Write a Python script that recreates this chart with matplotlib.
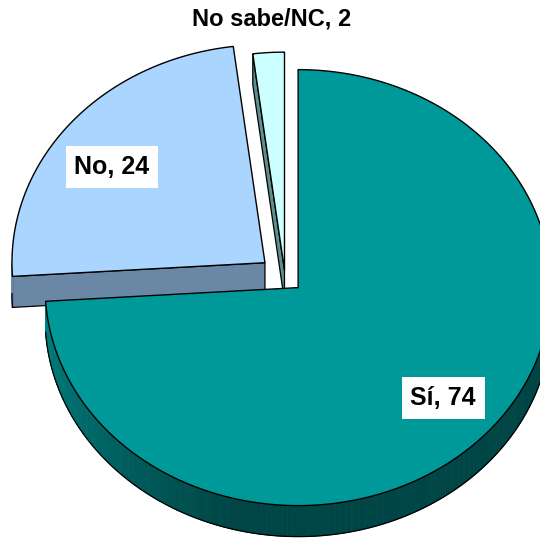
import numpy as np
import matplotlib
matplotlib.use("Agg")
import matplotlib.pyplot as plt
from matplotlib.patches import Polygon
from matplotlib.colors import to_rgb

# Survey answers
categories = ["Sí", "No", "No sabe/NC"]
values = [74, 24, 2]
top_colors = ["#009999", "#A9D5FE", "#CCFFFF"]
side_colors = ["#004545", "#6A88A6", "#5E8E8E"]
side_light = ["#008080", "#6A88A6", "#5E8E8E"]

# Projected pie geometry (in pixel-like data units)
CX, CY = 285.0, 277.0      # pie centre
RX, RY = 253.0, 218.0      # ellipse radii of the top face
DEPTH = 31.0               # thickness of the disc
EXPLODE = [18.0, 26.0, 8.0]
START = 90.0

fig = plt.figure(figsize=(5.40, 5.39), dpi=100)
ax = fig.add_axes([0, 0, 1, 1])
ax.set_xlim(0, 540)
ax.set_ylim(539, 0)
ax.axis("off")


def rim(cx, cy, deg):
    t = np.radians(deg)
    return cx + RX * np.cos(t), cy - RY * np.sin(t)


def blend(c1, c2, f):
    a, b = np.array(to_rgb(c1)), np.array(to_rgb(c2))
    return tuple(a + (b - a) * f)


fracs = np.array(values, dtype=float) / sum(values)
spans = fracs * 360.0
bounds = []
ang = START
for s in spans:
    bounds.append((ang - s, ang))   # clockwise
    ang -= s

slices = []
for i, (lo, hi) in enumerate(bounds):
    mid = np.radians((lo + hi) / 2)
    cx = CX + EXPLODE[i] * np.cos(mid)
    cy = CY - EXPLODE[i] * np.sin(mid) * RY / RX
    slices.append((cx, cy, lo, hi))

# draw back slices first, the big front slice last
order = [2, 1, 0]
for i in order:
    cx, cy, lo, hi = slices[i]
    side = side_colors[i]

    # radial walls that face the viewer
    for edge, sign in ((lo, -1), (hi, 1)):
        normal = np.radians(edge + sign * 90)
        if np.sin(normal) < -1e-6:
            px, py = rim(cx, cy, edge)
            ax.add_patch(Polygon([(cx, cy), (px, py), (px, py + DEPTH), (cx, cy + DEPTH)],
                                 closed=True, facecolor=side, edgecolor="black",
                                 linewidth=0.9, zorder=1))

    # outer curved wall, front half only
    segs = []
    for k in range(-1, 2):
        s0, s1 = lo + 360 * k, hi + 360 * k
        w0, w1 = max(s0, 180), min(s1, 360)
        if w1 > w0:
            segs.append((w0, w1))
    for w0, w1 in segs:
        th = np.linspace(w0, w1, max(int((w1 - w0) * 2), 2))
        for j in range(len(th) - 1):
            f = np.clip((th[j] - 185) / 70.0, 0, 1)
            col = blend(side_light[i], side, f)
            p1 = rim(cx, cy, th[j]); p2 = rim(cx, cy, th[j + 1])
            ax.add_patch(Polygon([p1, p2, (p2[0], p2[1] + DEPTH), (p1[0], p1[1] + DEPTH)],
                                 closed=True, facecolor=col, edgecolor=col,
                                 linewidth=0.6, zorder=1))
        th = np.linspace(w0, w1, 200)
        xs, ys = rim(cx, cy, th)
        ax.plot(xs, ys + DEPTH, color="black", linewidth=0.9, zorder=1)

    # top face
    th = np.linspace(hi, lo, 400)
    xs, ys = rim(cx, cy, th)
    pts = [(cx, cy)] + list(zip(xs, ys))
    ax.add_patch(Polygon(pts, closed=True, facecolor=top_colors[i],
                         edgecolor="black", linewidth=1.0, zorder=1))

label_font = dict(family=["Liberation Sans Narrow", "Liberation Sans", "DejaVu Sans"],
                  weight="bold", color="black")
box = dict(boxstyle="square,pad=0.35", facecolor="white", edgecolor="none")

ax.text(443, 398, f"{categories[0]}, {values[0]}", fontsize=18, ha="center", va="center",
        bbox=box, **label_font)
ax.text(112, 167, f"{categories[1]}, {values[1]}", fontsize=18, ha="center", va="center",
        bbox=box, **label_font)
ax.text(272, 19, f"{categories[2]}, {values[2]}", fontsize=17, ha="center", va="center",
        **label_font)

fig.savefig("out.png", dpi=100, facecolor="white")
